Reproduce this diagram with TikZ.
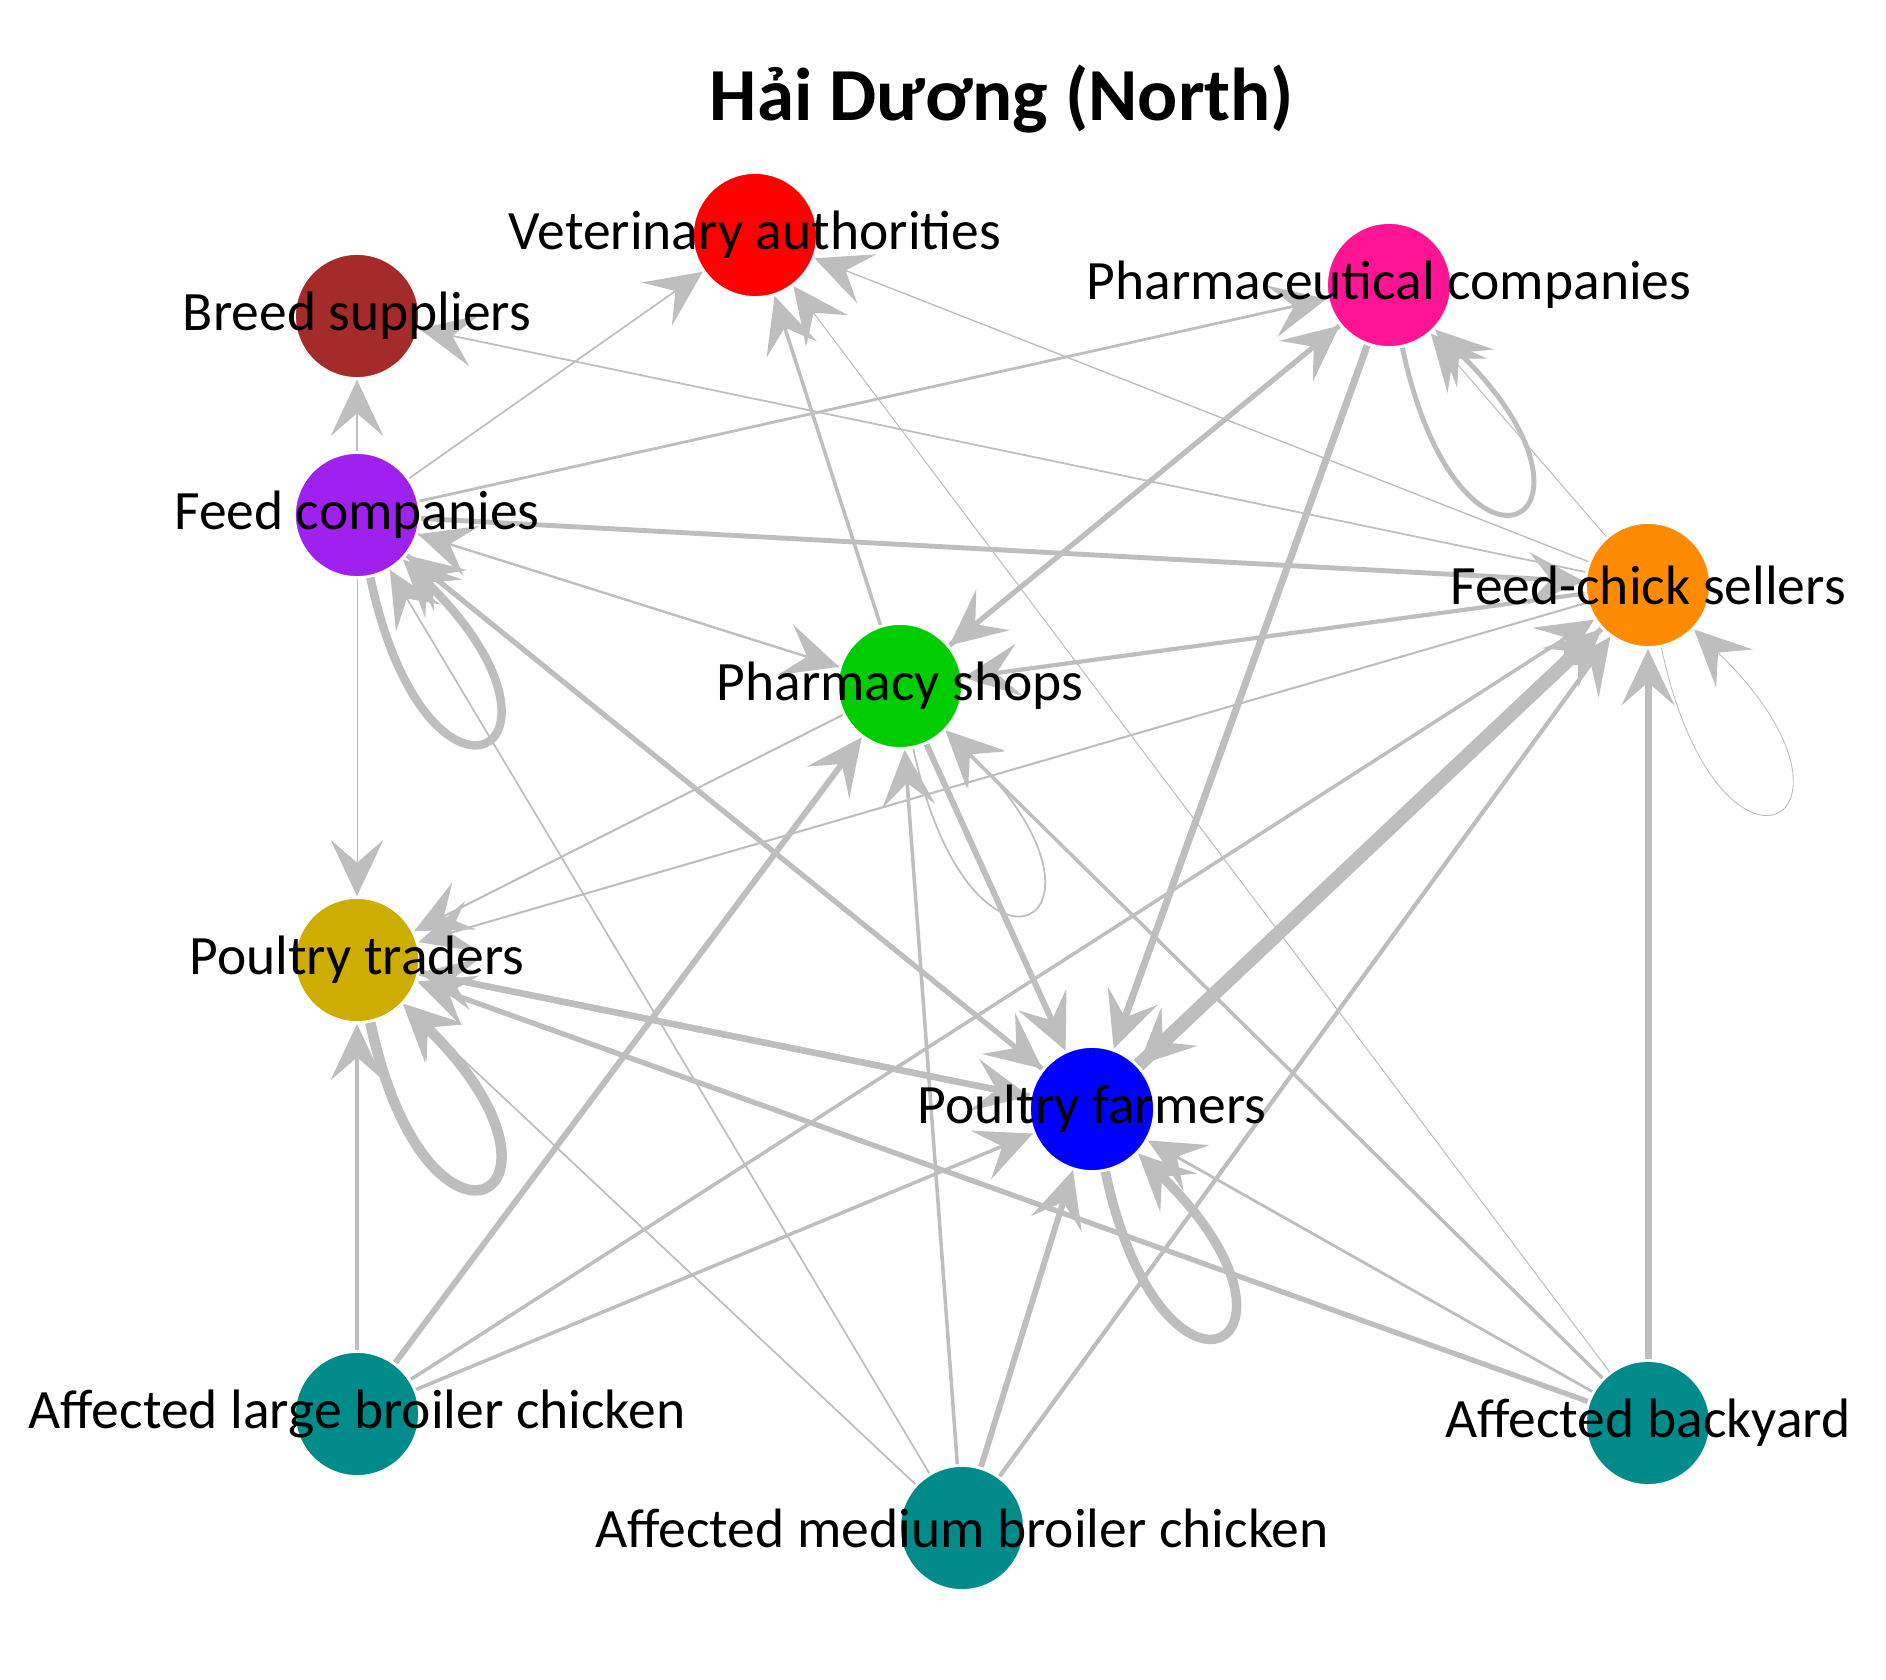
\documentclass[tikz,border=0pt]{standalone}
\usepackage{fontspec}
\setmainfont{Carlito}
\usetikzlibrary{arrows.meta}
\pgfdeclarelayer{edges}
\pgfsetlayers{edges,main}
\definecolor{edgegray}{RGB}{190,190,190}
\definecolor{vetred}{RGB}{255,0,0}
\definecolor{breedbrown}{RGB}{165,42,42}
\definecolor{pharmapink}{RGB}{255,20,147}
\definecolor{feedpurple}{RGB}{160,32,240}
\definecolor{sellerorange}{RGB}{255,140,0}
\definecolor{shopgreen}{RGB}{0,205,0}
\definecolor{tradergold}{RGB}{205,173,0}
\definecolor{farmerblue}{RGB}{0,0,255}
\definecolor{affectedteal}{RGB}{0,139,139}

\begin{document}
\begin{tikzpicture}[
    actor/.style={circle,draw=white,line width=0.8pt,minimum size=1.25cm,inner sep=0pt},
    every label/.style={font=\fontsize{15.8}{18}\selectfont,inner sep=0pt},
    link/.style={draw=edgegray,-{Stealth[length=16pt,width=15pt,inset=6.5pt]}}
  ]
  \useasboundingbox (0,0) rectangle (18.86,16.79);

  % the title
  \node[font=\bfseries\fontsize{21.3}{26}\selectfont] (title) at (10.02,15.80) {Hải Dương (North)};

  % the actors
  \node[actor,fill=vetred,label=center:Veterinary authorities] (vet) at (7.55,14.44) {};
  \node[actor,fill=breedbrown,label=center:Breed suppliers] (breed) at (3.57,13.63) {};
  \node[actor,fill=pharmapink,label=center:Pharmaceutical companies] (pharmco) at (13.89,13.94) {};
  \node[actor,fill=feedpurple,label=center:Feed companies] (feedco) at (3.57,11.64) {};
  \node[actor,fill=sellerorange,label=center:Feed-chick sellers] (fcs) at (16.48,10.94) {};
  \node[actor,fill=shopgreen,label=center:Pharmacy shops] (pshop) at (9.00,9.93) {};
  \node[actor,fill=tradergold,label=center:Poultry traders] (trader) at (3.57,7.19) {};
  \node[actor,fill=farmerblue,label=center:Poultry farmers] (farmer) at (10.92,5.70) {};

  % the affected farm types
  \node[actor,fill=affectedteal,label=center:Affected large broiler chicken] (large) at (3.57,2.65) {};
  \node[actor,fill=affectedteal,label=center:Affected medium broiler chicken] (medium) at (9.62,1.51) {};
  \node[actor,fill=affectedteal,label=center:Affected backyard] (backyard) at (16.48,2.56) {};

  \begin{pgfonlayer}{edges}
  % the links
  \foreach \src/\dst/\wd in {feedco/breed/0.3, feedco/vet/0.5, fcs/breed/0.5,
      feedco/pharmco/0.8, feedco/fcs/1.4, feedco/pshop/0.6, pshop/feedco/0.6,
      feedco/trader/0.25, feedco/farmer/1.4, farmer/feedco/1.4, medium/feedco/0.5,
      pshop/vet/1.0, backyard/vet/0.3, fcs/vet/0.4,
      pharmco/pshop/1.4, pshop/pharmco/1.4, pharmco/farmer/2.0, fcs/pharmco/0.3,
      fcs/pshop/1.2, pshop/trader/0.6, fcs/trader/0.6, pshop/farmer/1.7,
      backyard/pshop/1.0, large/pshop/1.7, medium/pshop/1.0,
      trader/farmer/1.8, farmer/trader/1.8, large/trader/1.2, large/farmer/1.0,
      large/fcs/1.0, backyard/trader/1.5, medium/trader/0.5,
      farmer/fcs/4.0, fcs/farmer/1.6, medium/farmer/1.7, medium/fcs/1.2,
      backyard/fcs/2.0, backyard/farmer/0.8}
    \draw[link,line width=\wd pt] (\src) -- (\dst);

  % the self-loops
  \foreach \n/\wd in {feedco/2.4, trader/3.0, farmer/2.7, pshop/0.5, pharmco/1.4, fcs/0.25}
    \draw[link,line width=\wd pt] (\n.-78) .. controls +(-78:2.75) and +(-44:2.75) .. (\n.-44);
  \end{pgfonlayer}
\end{tikzpicture}
\end{document}
